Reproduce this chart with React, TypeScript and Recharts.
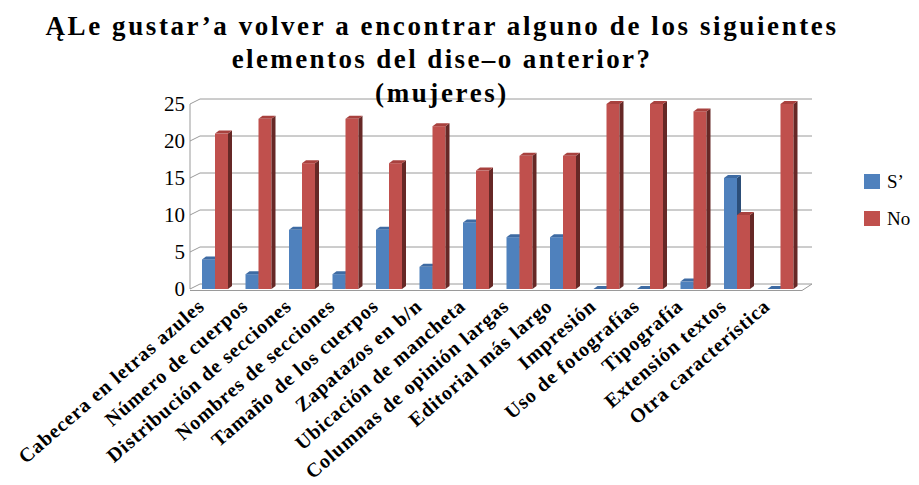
import React from 'react';
import { BarChart, Bar, XAxis, YAxis, CartesianGrid, Legend } from 'recharts';

const categories = [
  'Cabecera en letras azules',
  'Número de cuerpos',
  'Distribución de secciones',
  'Nombres de secciones',
  'Tamaño de los cuerpos',
  'Zapatazos en b/n',
  'Ubicación de mancheta',
  'Columnas de opinión largas',
  'Editorial más largo',
  'Impresión',
  'Uso de fotografías',
  'Tipografía',
  'Extensión textos',
  'Otra característica',
];
const siValues = [4, 2, 8, 2, 8, 3, 9, 7, 7, 0, 0, 1, 15, 0];
const noValues = [21, 23, 17, 23, 17, 22, 16, 18, 18, 25, 25, 24, 10, 25];
const yTicks = [0, 5, 10, 15, 20, 25];
const seriesNames = ['S’', 'No'];
const titleLines = [
  'ĄLe gustar’a volver a encontrar alguno de los siguientes',
  'elementos del dise–o anterior?',
  '(mujeres)',
];

const data = categories.map((name, i) => ({ name, si: siValues[i], no: noValues[i] }));

const SERIF = "'Liberation Serif', 'DejaVu Serif', 'Noto Serif', 'Times New Roman', Times, serif";
const GRID = '#9a9a9a';
const DX = 10;
const DY = -5;

const make3D = (front: string, side: string, top: string) => (props: any) => {
  const { x, y, width, height } = props;
  const h = Math.max(height || 0, 0);
  const d = 4;
  const dd = -3;
  return (
    <g>
      <rect x={x} y={y} width={width} height={h} fill={front} />
      <polygon
        points={`${x + width},${y} ${x + width + d},${y + dd} ${x + width + d},${y + h + dd} ${x + width},${y + h}`}
        fill={side}
      />
      <polygon
        points={`${x},${y} ${x + d},${y + dd} ${x + width + d},${y + dd} ${x + width},${y}`}
        fill={top}
      />
    </g>
  );
};

const gridLine = (p: any) => {
  const { x1, y1, x2, index } = p;
  const isBottom = Math.abs(y1 - 289) < 3;
  return (
    <g key={`g-${index}-${y1}`}>
      <line x1={x1 + DX} y1={y1 + DY} x2={x2 + DX} y2={y1 + DY} stroke={GRID} strokeWidth={1} />
      <line x1={x1} y1={y1} x2={x1 + DX} y2={y1 + DY} stroke={GRID} strokeWidth={1} />
      {isBottom ? (
        <g>
          <line x1={x1} y1={y1 + 1.5} x2={x2} y2={y1 + 1.5} stroke={GRID} strokeWidth={1} />
          <line x1={x2} y1={y1 + 1.5} x2={x2 + DX} y2={y1 + DY} stroke={GRID} strokeWidth={1} />
        </g>
      ) : null}
    </g>
  );
};

const XTick = (props: any) => {
  const { x, payload } = props;
  const ax = x - 9;
  const ay = 308;
  return (
    <text
      x={ax}
      y={ay}
      transform={`rotate(-41 ${ax} ${ay})`}
      textAnchor="end"
      style={{ fontFamily: SERIF, fontWeight: 'bold', fontSize: 20, letterSpacing: 0.9 }}
      fill="#000"
    >
      {payload.value}
    </text>
  );
};

const LegendContent = (props: any) => {
  const { payload } = props;
  const items = [...(payload || [])].sort(
    (a: any, b: any) => seriesNames.indexOf(a.value) - seriesNames.indexOf(b.value)
  );
  return (
    <div style={{ fontFamily: SERIF, fontSize: 19, color: '#000' }}>
      {items.map((entry: any, i: number) => (
        <div key={i} style={{ display: 'flex', alignItems: 'center', height: 37 }}>
          <span style={{ display: 'inline-block', width: 16, height: 15, background: entry.color, marginRight: 7 }} />
          <span>{entry.value}</span>
        </div>
      ))}
    </div>
  );
};

export default function App() {
  return (
    <div style={{ position: 'absolute', left: 0, top: 0, width: 919, height: 485, background: '#fff' }}>
      <div
        style={{
          position: 'absolute',
          left: 0,
          top: 0,
          width: 884,
          textAlign: 'center',
          fontFamily: SERIF,
          fontWeight: 'bold',
          fontSize: 27,
          lineHeight: '33px',
          color: '#000',
          zIndex: 2,
          pointerEvents: 'none',
        }}
      >
        <div style={{ position: 'absolute', left: 0, width: 884, top: 10, letterSpacing: 2.6 }}>{titleLines[0]}</div>
        <div style={{ position: 'absolute', left: 0, width: 884, top: 43, letterSpacing: 2.4 }}>{titleLines[1]}</div>
        <div style={{ position: 'absolute', left: 0, width: 884, top: 77, letterSpacing: 2.6 }}>{titleLines[2]}</div>
      </div>
      <BarChart
        width={919}
        height={485}
        data={data}
        margin={{ top: 104, right: 117, bottom: 166, left: 150 }}
        barCategoryGap={9}
        barGap={0}
      >
        <CartesianGrid horizontal={gridLine} vertical={false} />
        <XAxis
          dataKey="name"
          interval={0}
          axisLine={false}
          tickLine={false}
          height={30}
          padding={{ left: 3, right: 0 }}
          tick={<XTick />}
        />
        <YAxis
          domain={[0, 25]}
          ticks={yTicks}
          width={40}
          axisLine={{ stroke: GRID }}
          tickLine={false}
          tickSize={3}
          tick={{ fontFamily: SERIF, fontSize: 21, fill: '#000' }}
          interval={0}
        />
        <Legend
          layout="horizontal"
          verticalAlign="middle"
          align="center"
          itemSorter={null as any}
          content={<LegendContent />}
          wrapperStyle={{ left: 864, top: 163, width: 60, height: 80 }}
        />
        <Bar dataKey="si" name={seriesNames[0]} fill="#4F81BD" isAnimationActive={false} shape={make3D('#4F81BD', '#2c4e78', '#3e6ba3')} />
        <Bar dataKey="no" name={seriesNames[1]} fill="#C0504D" isAnimationActive={false} shape={make3D('#C0504D', '#662826', '#a8413e')} />
      </BarChart>
    </div>
  );
}
